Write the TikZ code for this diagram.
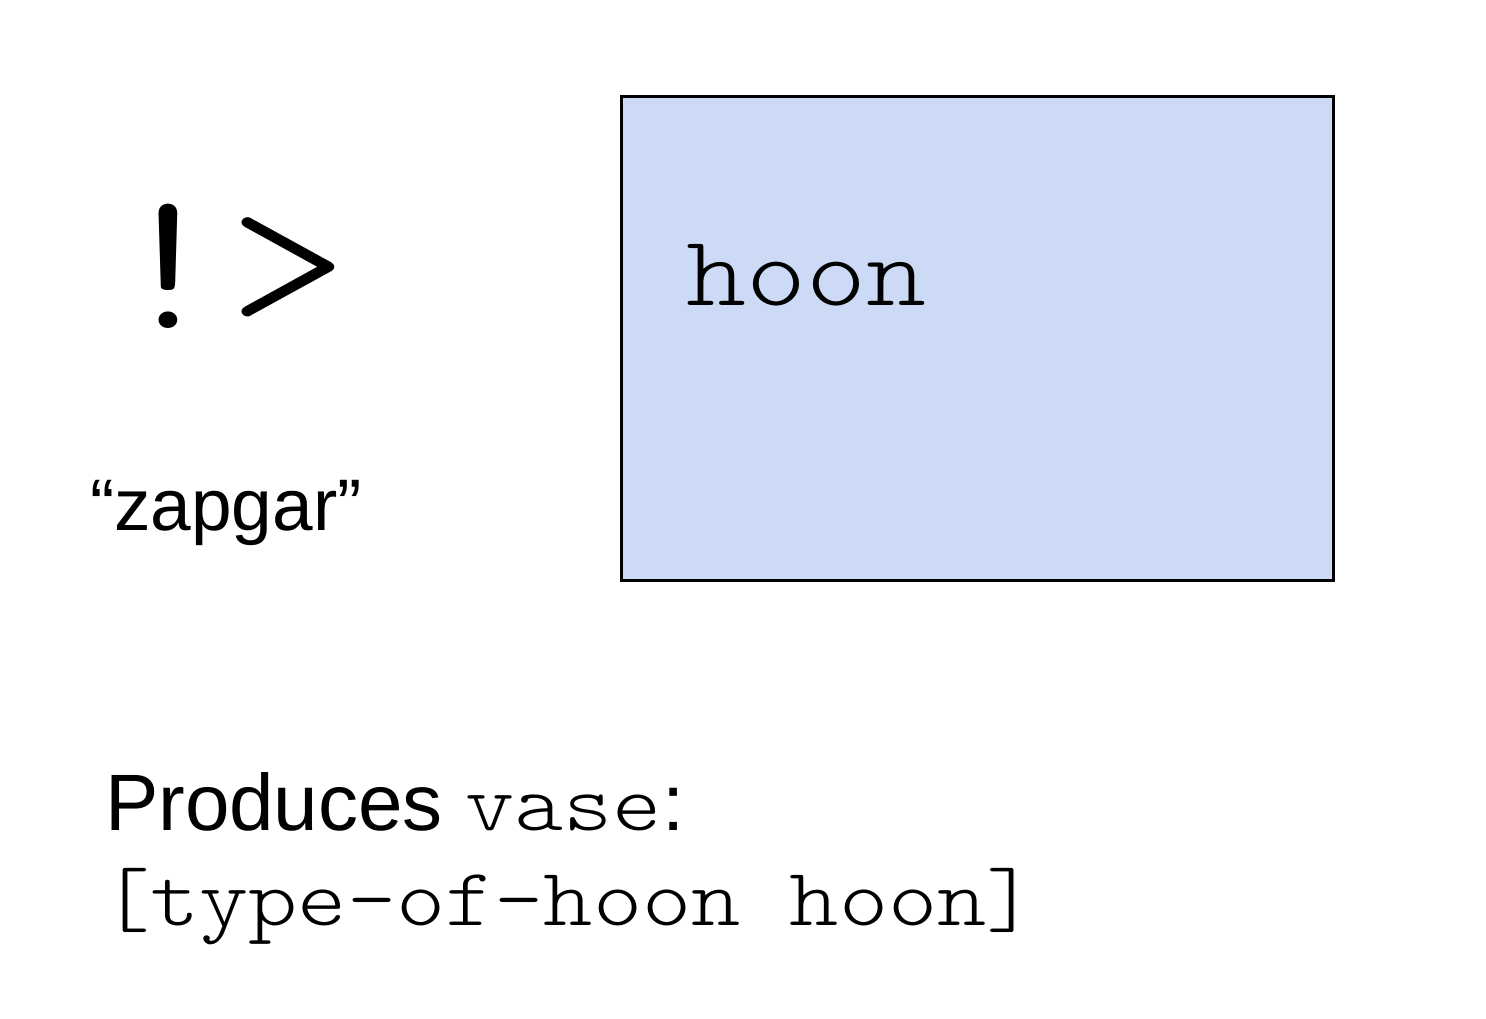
\documentclass[tikz,border=0pt]{standalone}
\usepackage{fontspec}
\setmainfont{Liberation Sans}
\setsansfont{Liberation Sans}
% thin serif typewriter face, widened to a 0.6em cell
\setmonofont[FakeStretch=1.1429]{Latin Modern Mono Light}
\definecolor{boxblue}{RGB}{204,218,245}
\begin{document}
\begin{tikzpicture}[x=0.5pt,y=-0.5pt,
  txt/.style={inner sep=0pt,outer sep=0pt,anchor=base west,text=black},
  codebox/.style={draw=black,fill=boxblue,line width=1.5pt}]
  \useasboundingbox (0,0) rectangle (1486,1018);
  % rune and its name
  \node[txt,font=\ttfamily\fontsize{100}{100}\selectfont] (rune) at (108,328) {!>};
  \node[txt,font=\sffamily\fontsize{36.5}{36.5}\selectfont] (name) at (90,530) {“zapgar”};
  % child hoon
  \draw[codebox] (621,96) rectangle (1333,580);
  \node[txt,font=\ttfamily\fontsize{50}{50}\selectfont] (child) at (686,305) {hoon};
  % result description
  \node[txt,font=\sffamily\fontsize{40}{40}\selectfont] (produces) at (105,830)
    {Produces {\ttfamily\fontsize{41}{41}\selectfont vase}:};
  \node[txt,font=\ttfamily\fontsize{41}{41}\selectfont] (result) at (101,925)
    {[type-of-hoon hoon]};
\end{tikzpicture}
\end{document}
